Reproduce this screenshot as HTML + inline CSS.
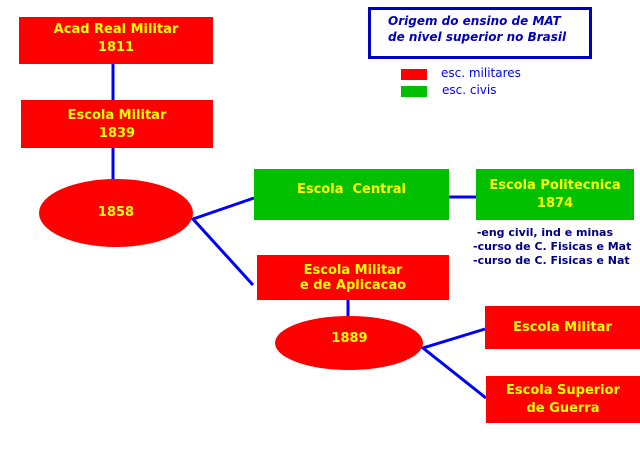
<!DOCTYPE html>
<html><head><style>
body{margin:0;width:640px;height:450px;background:#fff;position:relative;overflow:hidden;font-family:"DejaVu Sans","Liberation Sans",sans-serif}
.b{position:absolute;color:#ffff00;font-weight:bold;font-size:13px;text-align:center;line-height:18px;display:flex;flex-direction:column;justify-content:center;align-items:center;box-sizing:border-box}
.r{background:#ff0000}.g{background:#00c000}
.t{position:absolute;white-space:nowrap}
</style></head><body>
<svg width="640" height="450" style="position:absolute;left:0;top:0">
<g stroke="#0000ff" stroke-width="3" fill="none">
<line x1="113" y1="64" x2="113" y2="103"/>
<line x1="113" y1="148" x2="113" y2="181"/>
<polyline points="254,198 193,219 253,285"/>
<line x1="449" y1="197" x2="476" y2="197"/>
<line x1="348" y1="300" x2="348" y2="318"/>
<polyline points="485,329 423,348 486,398"/>
</g>
<ellipse cx="116" cy="213" rx="77" ry="34" fill="#ff0000"/>
<ellipse cx="349" cy="343" rx="74" ry="27" fill="#ff0000"/>
</svg>
<div class="b r" style="left:19px;top:17px;width:194px;height:47px;padding-bottom:3px">Acad Real Militar<br>1811</div>
<div class="b r" style="left:21px;top:100px;width:192px;height:48px;padding-top:2px">Escola Militar<br>1839</div>
<div class="b" style="left:39px;top:200px;width:154px;height:26px">1858</div>
<div class="b g" style="left:254px;top:169px;width:195px;height:51px;padding-bottom:10px">Escola&nbsp; Central</div>
<div class="b g" style="left:476px;top:169px;width:158px;height:51px">Escola Politecnica<br>1874</div>
<div class="b r" style="left:257px;top:255px;width:192px;height:45px;line-height:15px">Escola Militar<br>e de Aplicacao</div>
<div class="b" style="left:276px;top:328px;width:147px;height:22px">1889</div>
<div class="b r" style="left:485px;top:306px;width:155px;height:43px">Escola Militar</div>
<div class="b r" style="left:486px;top:376px;width:154px;height:47px">Escola Superior<br>de Guerra</div>
<div style="position:absolute;left:368px;top:7px;width:218px;height:46px;border:3px solid #0000c0"></div>
<div class="t" style="left:388px;top:13px;color:#0000c0;font-style:italic;font-weight:bold;font-size:12px;line-height:16px">Origem do ensino de MAT<br>de nivel superior no Brasil</div>
<div style="position:absolute;left:401px;top:69px;width:26px;height:11px;background:#ff0000"></div>
<div style="position:absolute;left:401px;top:86px;width:26px;height:11px;background:#00c000"></div>
<div class="t" style="left:441px;top:66px;color:#0000ff;font-size:12px">esc. militares</div>
<div class="t" style="left:442px;top:83px;color:#0000ff;font-size:12px">esc. civis</div>
<div class="t" style="left:473px;top:226px;color:#000080;font-weight:bold;font-size:11px;line-height:14px">&nbsp;-eng civil, ind e minas<br>-curso de C. Fisicas e Mat<br>-curso de C. Fisicas e Nat</div>
</body></html>
